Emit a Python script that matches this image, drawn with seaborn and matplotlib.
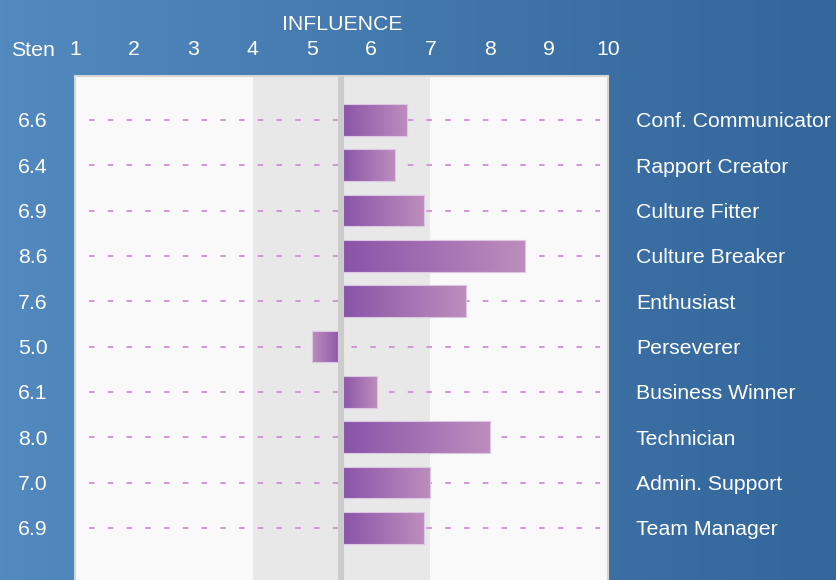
import numpy as np
import pandas as pd
import matplotlib
matplotlib.use('Agg')
import matplotlib.pyplot as plt
import matplotlib.transforms as mtrans
from matplotlib.colors import LinearSegmentedColormap
import seaborn as sns

# Data
traits = ['Conf. Communicator', 'Rapport Creator', 'Culture Fitter', 'Culture Breaker',
          'Enthusiast', 'Perseverer', 'Business Winner', 'Technician',
          'Admin. Support', 'Team Manager']
sten = [6.6, 6.4, 6.9, 8.6, 7.6, 5.0, 6.1, 8.0, 7.0, 6.9]
ticks = [1, 2, 3, 4, 5, 6, 7, 8, 9, 10]
MID = 5.5          # bars grow out from the middle of the scale
BAND = (4, 7)      # shaded average band

sns.set_theme(style='white')
plt.rcParams['font.family'] = ['Liberation Sans', 'DejaVu Sans']
plt.rcParams['lines.scale_dashes'] = False

df = pd.DataFrame({'trait': traits, 'sten': sten})
df['offset'] = df['sten'] - MID

W, H = 837, 580
FS = 15.3
fig = plt.figure(figsize=(W / 100, H / 100), dpi=100)

# blue gradient background
bg = fig.add_axes([0, 0, 1, 1], zorder=-10)
grad = np.linspace(0, 1, 256)[None, :]
bg_cmap = LinearSegmentedColormap.from_list('bg', ['#5289bf', '#33669a'])
bg.imshow(grad, aspect='auto', cmap=bg_cmap, extent=[0, 1, 0, 1])
bg.axis('off')

ax = fig.add_axes([75 / W, 0, (608 - 75) / W, 1 - 76 / H])
ax.set_facecolor('#f9f9f9')

sns.barplot(data=df, x='offset', y='trait', orient='h', width=0.7, ax=ax,
            color='#a070b0', zorder=3)

# gradient fill for each bar: dark at the middle line, lighter at the tip
bar_cmap = LinearSegmentedColormap.from_list('bar', ['#8953a8', '#bd8dbd'])
for p in list(ax.patches):
    x0, y0 = p.get_x(), p.get_y()
    w, h = p.get_width(), p.get_height()
    p.set_facecolor('none')
    p.set_edgecolor('#dcc6e2')
    p.set_linewidth(0.8)
    g = grad if w >= 0 else grad[:, ::-1]
    left, right = min(x0, x0 + w), max(x0, x0 + w)
    im = ax.imshow(g, aspect='auto', cmap=bar_cmap, zorder=2.9,
                   extent=[left, right, y0 + h, y0])
    im.set_clip_path(p)

lo, hi = ticks[0] - MID, ticks[-1] - MID
ax.axvspan(BAND[0] - MID, BAND[1] - MID, color='#e8e8e8', zorder=0, lw=0)
ax.axvline(0, color='#cccccc', lw=4.4, zorder=4)

# dashed guide lines
ax.hlines(range(len(traits)), lo + 0.24, hi - 0.13, colors='#c794cd', lw=1.3,
          linestyles=[(0, (4, 9.5))], zorder=1.5)

ax.set_xlim(lo, hi)
ax.set_ylim(len(traits) - 1 + 1.15, -0.97)
ax.set_xticks([t - MID for t in ticks])
ax.set_xticklabels([str(t) for t in ticks])
ax.xaxis.tick_top()
ax.tick_params(axis='x', length=0, pad=12, labelsize=FS, labelcolor='white')
ax.set_yticks([])
ax.set_xlabel('')
ax.set_ylabel('')
for s in ['top', 'left', 'right']:
    ax.spines[s].set_visible(True)
    ax.spines[s].set_color('#d5d5d5')
    ax.spines[s].set_linewidth(1.5)
ax.spines['bottom'].set_visible(False)

# row labels on both sides
tr = mtrans.blended_transform_factory(fig.transFigure, ax.transData)
for i, (name, v) in enumerate(zip(traits, sten)):
    ax.text(33 / W, i, f'{v:.1f}', transform=tr, ha='center', va='center_baseline',
            color='white', fontsize=FS, clip_on=False)
    ax.text(636 / W, i, name, transform=tr, ha='left', va='center_baseline',
            color='white', fontsize=FS, clip_on=False)

fig.text(33 / W, 1 - 48.5 / H, 'Sten', ha='center', va='center_baseline',
         color='white', fontsize=FS)
fig.text(342 / W, 1 - 22 / H, 'INFLUENCE', ha='center', va='center_baseline',
         color='white', fontsize=FS)

fig.savefig('out.png', dpi=100)
